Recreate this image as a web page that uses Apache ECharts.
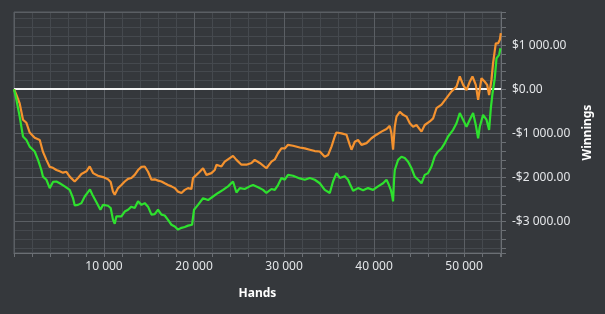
<!DOCTYPE html>
<html>
<head>
<meta charset="utf-8">
<script src="https://cdn.jsdelivr.net/npm/echarts@6/dist/echarts.min.js"></script>
<style>
html,body{margin:0;padding:0;background:#35383c;}
#c{width:605px;height:314px;}
</style>
</head>
<body>
<div id="c"></div>
<script>
const orangeHands = [0,270,630,1000,1380,1740,2300,2860,3220,3600,3970,4330,4710,5080,5440,5820,6190,6740,7110,7490,8040,8410,8780,9330,9890,10440,10740,11000,11190,11560,11930,12300,12670,13040,13410,13780,14160,14520,14890,15270,15630,16000,16380,16740,17110,17490,17860,18220,18600,18970,19330,19710,19890,20270,20630,21000,21380,21930,22300,22490,23040,23410,23970,24330,24710,25270,25820,26380,26740,27300,28040,28600,28970,29330,29710,30080,30440,31000,31740,32300,32860,33410,33970,34520,34890,35270,35630,35820,36380,36930,37300,37490,37860,38220,38600,39160,39710,40270,40820,41380,41740,41930,42110,42300,42490,42860,43220,43600,43970,44330,44710,45270,45630,46190,46560,46930,47490,48040,48600,49160,49520,49890,50270,50630,50930,51300,51560,51930,52300,52560,52780,53040,53220,53520,53780,53970,54080];
const orangeWinnings = [0,-130,-320,-690,-760,-980,-1100,-1150,-1420,-1600,-1760,-1780,-1830,-1860,-1890,-1870,-1980,-2090,-2010,-1920,-1860,-1750,-1900,-1960,-1990,-2040,-2100,-2320,-2390,-2240,-2170,-2090,-2030,-2010,-1940,-1830,-1760,-1750,-1870,-2050,-2040,-2070,-2090,-2130,-2170,-2200,-2240,-2320,-2350,-2280,-2240,-2260,-2010,-1940,-1870,-1790,-1940,-1900,-1830,-1710,-1750,-1640,-1560,-1510,-1600,-1710,-1710,-1670,-1600,-1670,-1790,-1640,-1590,-1450,-1340,-1340,-1260,-1280,-1320,-1340,-1370,-1400,-1410,-1530,-1490,-1300,-1070,-980,-1000,-1030,-1260,-1370,-1190,-1150,-1260,-1220,-1110,-1030,-960,-900,-830,-1000,-1370,-850,-620,-510,-580,-620,-770,-850,-810,-960,-810,-730,-660,-430,-350,-200,-50,60,290,100,-20,170,290,100,-240,250,170,100,-130,210,590,1040,1040,1120,1270];
const greenHands = [0,270,630,1000,1380,1740,2300,2670,3040,3220,3600,3970,4330,4710,5080,5630,6190,6560,6740,7110,7490,7860,8220,8440,8710,9160,9600,9890,10440,10740,11000,11190,11380,11930,12300,12670,13040,13410,13780,14160,14520,14890,15270,15630,16000,16380,16740,17110,17490,17860,18220,18600,18970,19330,19780,20000,20440,20630,21000,21560,22110,22670,23220,23780,24330,24710,25080,25630,26190,26560,27110,27670,28040,28600,28970,29330,29710,30080,30440,31000,31740,32300,32860,33410,33970,34520,35080,35440,35820,36190,36740,37110,37300,37670,38220,38780,39330,39890,40440,41000,41380,41630,41860,42000,42110,42220,42300,42670,43040,43410,43780,44160,44520,44890,45270,45630,46000,46380,46740,47110,47490,47860,48220,48780,49160,49520,49890,50270,50630,51000,51300,51560,51740,52110,52490,52780,52970,53160,53410,53600,53890,54040];
const greenWinnings = [0,-240,-620,-1070,-1150,-1300,-1410,-1600,-1830,-1980,-2050,-2240,-2100,-2090,-2130,-2200,-2280,-2470,-2630,-2620,-2580,-2430,-2330,-2270,-2390,-2560,-2730,-2620,-2640,-2690,-2960,-3050,-2880,-2880,-2770,-2730,-2660,-2690,-2540,-2620,-2580,-2660,-2840,-2830,-2730,-2840,-2860,-2960,-3070,-3110,-3180,-3140,-3120,-3090,-3070,-2730,-2620,-2620,-2470,-2510,-2430,-2350,-2280,-2200,-2090,-2340,-2240,-2260,-2200,-2170,-2220,-2280,-2350,-2260,-2280,-2170,-2010,-2050,-1940,-1960,-2020,-2050,-2010,-2050,-2130,-2280,-2350,-2090,-1900,-2010,-1970,-2050,-2140,-2300,-2240,-2290,-2240,-2280,-2200,-2130,-2050,-2160,-2280,-2410,-2540,-2050,-1830,-1600,-1530,-1560,-1640,-1790,-1980,-2050,-2130,-1940,-1900,-1750,-1520,-1410,-1340,-1220,-1070,-920,-770,-540,-690,-850,-690,-540,-810,-1110,-850,-580,-690,-920,-430,-90,250,700,780,930];

const xMin = 0, xMax = 54100, yMin = -3710, yMax = 1750;

function group(n){ return String(n).replace(/\B(?=(\d{3})+(?!\d))/g, ' '); }
function money(v){ const a = Math.abs(Math.round(v)); return (v < 0 ? '-' : '') + '$' + group(a) + '.00'; }

const FONT = '"Noto Sans", "Open Sans", sans-serif';
const txt = '#e4e6e9';
const majorGrid = '#5b5f64';
const minorGrid = '#45494e';
const axisCol = '#6b6f74';

const chart = echarts.init(document.getElementById('c'), null, {renderer:'canvas'});
chart.setOption({
  backgroundColor: '#35383c',
  animation: false,
  grid: {left: 14, right: 104, top: 12, bottom: 61, show: true, borderColor: majorGrid, borderWidth: 1, containLabel: false, outerBoundsMode: 'none'},
  xAxis: [
    {type: 'value', position: 'bottom', min: xMin, max: xMax, minInterval: 2000, maxInterval: 2000, z: 0,
     axisLine: {show: false, onZero: false}, axisTick: {show: true, length: 4, lineStyle: {color: axisCol}},
     axisLabel: {show: false}, splitLine: {show: true, lineStyle: {color: minorGrid, width: 1}}},
    {type: 'value', position: 'bottom', min: xMin, max: xMax, minInterval: 10000, maxInterval: 10000, z: 1,
     name: 'Hands', nameLocation: 'middle', nameGap: 35,
     nameTextStyle: {color: '#ffffff', fontFamily: FONT, fontWeight: 'bold', fontSize: 12},
     axisLine: {show: true, onZero: false, lineStyle: {color: axisCol}}, axisTick: {show: false},
     axisLabel: {show: true, margin: 8, color: txt, fontFamily: FONT, fontSize: 12, showMinLabel: false, showMaxLabel: false, formatter: v => group(v)},
     splitLine: {show: true, lineStyle: {color: majorGrid, width: 1}}}
  ],
  yAxis: [
    {type: 'value', position: 'right', min: yMin, max: yMax, minInterval: 200, maxInterval: 200, z: 0,
     axisLine: {show: false, onZero: false}, axisTick: {show: true, length: 5, lineStyle: {color: axisCol}},
     axisLabel: {show: false}, splitLine: {show: true, lineStyle: {color: minorGrid, width: 1}}},
    {type: 'value', position: 'right', min: yMin, max: yMax, minInterval: 1000, maxInterval: 1000, z: 1,
     name: 'Winnings', nameLocation: 'middle', nameGap: 70, nameRotate: 90,
     nameTextStyle: {color: '#ffffff', fontFamily: FONT, fontWeight: 'bold', fontSize: 12},
     axisLine: {show: true, onZero: false, lineStyle: {color: axisCol}}, axisTick: {show: false},
     axisLabel: {show: true, margin: 11, color: txt, fontFamily: FONT, fontSize: 12, showMinLabel: false, showMaxLabel: false, formatter: v => money(v)},
     splitLine: {show: true, lineStyle: {color: majorGrid, width: 1}}}
  ],
  series: [
    {type: 'line', xAxisIndex: 1, yAxisIndex: 1, data: [], z: 1, silent: true,
     markLine: {z: 1, silent: true, symbol: ['none','none'], label: {show: false},
       lineStyle: {color: '#f4f4f4', width: 2, type: 'solid'}, data: [{yAxis: 0}]}},
    {name: 'orange', type: 'line', xAxisIndex: 1, yAxisIndex: 1, z: 2, showSymbol: false, symbol: 'none',
     lineStyle: {color: '#f4922f', width: 2.2}, data: orangeHands.map((h, i) => [h, orangeWinnings[i]])},
    {name: 'green', type: 'line', xAxisIndex: 1, yAxisIndex: 1, z: 3, showSymbol: false, symbol: 'none',
     lineStyle: {color: '#2ee12e', width: 2.2}, data: greenHands.map((h, i) => [h, greenWinnings[i]])}
  ]
});
</script>
</body>
</html>
